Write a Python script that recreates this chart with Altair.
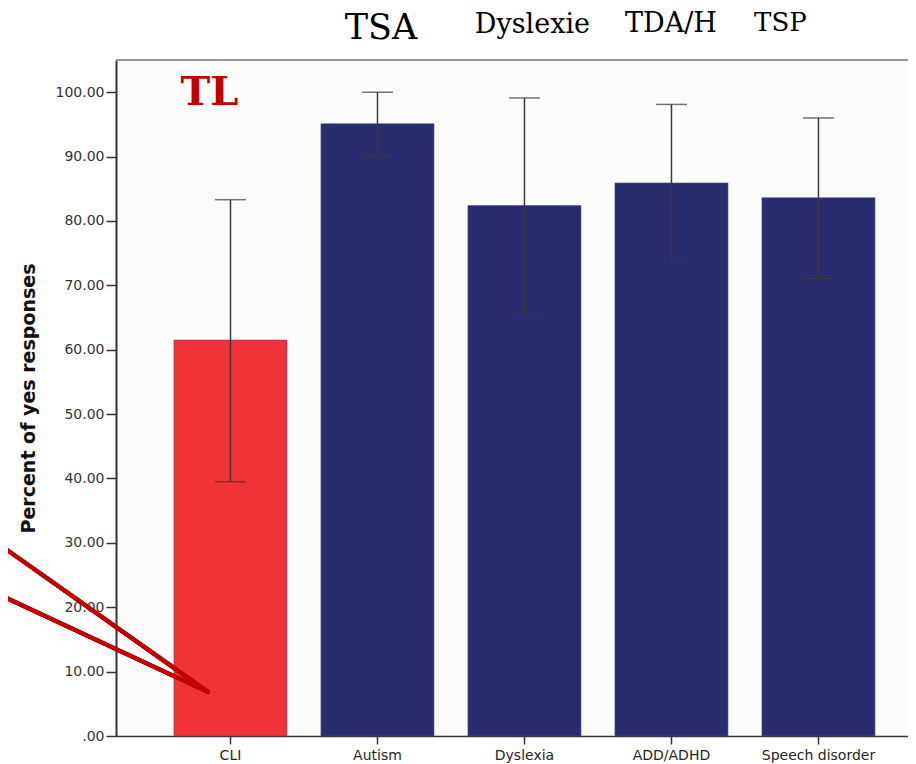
import altair as alt
import pandas as pd

categories = ["CLI", "Autism", "Dyslexia", "ADD/ADHD", "Speech disorder"]
means = [61.5, 95.1, 82.4, 85.9, 83.6]
ci_low = [39.5, 90.0, 65.3, 73.7, 71.1]
ci_high = [83.3, 100.0, 99.1, 98.1, 96.0]
bar_colors = ["#ef3339", "#2b2c6d", "#2b2c6d", "#2b2c6d", "#2b2c6d"]

ann_text = ["TL", "TSA", "Dyslexie", "TDA/H", "TSP"]
ann_cat = ["CLI", "Autism", "Dyslexia", "ADD/ADHD", "Speech disorder"]
ann_y = [98.0, 108.26, 109.2, 109.35, 109.5]
ann_dx = [-21, 3.5, 8, -0.5, -38]
ann_size = [40, 35, 27, 27, 26]
ann_color = ["#c00000", "#000000", "#000000", "#000000", "#000000"]
ann_weight = ["bold", "normal", "normal", "normal", "normal"]

df = pd.DataFrame({"cat": categories, "mean": means, "lo": ci_low, "hi": ci_high, "color": bar_colors})

W, H = 792, 676
xscale = alt.Scale(domain=categories, paddingInner=0.231, paddingOuter=0.3095, align=0.637)
yscale = alt.Scale(domain=[0, 105], nice=False, zero=True)

xenc = alt.X("cat:N", scale=xscale, sort=categories,
             axis=alt.Axis(title=None, labelAngle=0, labelFontSize=14, labelColor="#262626",
                           labelFont="DejaVu Sans", domainColor="#333333", domainWidth=1.5,
                           tickColor="#333333", tickWidth=1.5, tickSize=8, labelPadding=4))
yaxis = alt.Axis(title="Percent of yes responses", values=list(range(0, 101, 10)),
                 labelExpr="datum.value == 0 ? '.00' : format(datum.value, '.2f')",
                 labelFontSize=14, labelColor="#333333", labelFont="DejaVu Sans",
                 domainColor="#333333", domainWidth=2, tickColor="#333333", tickWidth=1.5,
                 tickSize=10, labelPadding=2, grid=False,
                 titleFont="DejaVu Sans", titleFontSize=19, titleFontWeight="bold",
                 titleColor="#111111", titleX=-88, titleY=338, titleAngle=-90,
                 titleAlign="center", titleBaseline="middle")

base = alt.Chart(df)

bars = base.mark_bar(stroke="#44538f", strokeWidth=0.6).encode(
    x=xenc,
    y=alt.Y("mean:Q", scale=yscale, axis=yaxis),
    color=alt.Color("color:N", scale=None),
)

err = base.mark_rule(color="#3a3a3a", strokeWidth=1.5).encode(
    x=alt.X("cat:N", scale=xscale, sort=categories),
    y=alt.Y("lo:Q", scale=yscale),
    y2="hi:Q",
)
cap_lo = base.mark_tick(color="#3a3a3a", thickness=1.5, size=31).encode(
    x=alt.X("cat:N", scale=xscale, sort=categories),
    y=alt.Y("lo:Q", scale=yscale),
)
cap_hi = base.mark_tick(color="#3a3a3a", thickness=1.5, size=31).encode(
    x=alt.X("cat:N", scale=xscale, sort=categories),
    y=alt.Y("hi:Q", scale=yscale),
)

ann_layers = []
for t, c, yv, dx, s, col, w in zip(ann_text, ann_cat, ann_y, ann_dx, ann_size, ann_color, ann_weight):
    d = pd.DataFrame({"cat": [c], "y": [yv], "t": [t]})
    ann_layers.append(
        alt.Chart(d).mark_text(font="DejaVu Serif", fontSize=s, color=col, fontWeight=w,
                               dx=dx, baseline="alphabetic", align="center", clip=False).encode(
            x=alt.X("cat:N", scale=xscale, sort=categories),
            y=alt.Y("y:Q", scale=yscale),
            text="t:N",
        )
    )

top_border = alt.Chart(df).mark_rule(color="#999999", strokeWidth=2).encode(
    x=alt.value(0), x2=alt.value(W), y=alt.value(0)
)

# red pointer lines (annotation)
arrow1 = alt.Chart(df).mark_rule(color="#c00000", strokeWidth=4, strokeCap="round").encode(
    x=alt.value(-116), y=alt.value(485), x2=alt.value(92), y2=alt.value(632)
)
arrow2 = alt.Chart(df).mark_rule(color="#c00000", strokeWidth=4, strokeCap="round").encode(
    x=alt.value(-116), y=alt.value(535), x2=alt.value(92), y2=alt.value(632)
)

chart = alt.layer(bars, err, cap_lo, cap_hi, top_border, *ann_layers, arrow1, arrow2).properties(
    width=W, height=H,
    autosize=alt.AutoSizeParams(type="none"),
    padding={"left": 108, "top": 52, "right": 0, "bottom": 28},
    background="#ffffff",
).configure_view(stroke=None, fill="#fcfcfa")

chart.save("out.html", embed_options={"renderer": "svg", "actions": False})
